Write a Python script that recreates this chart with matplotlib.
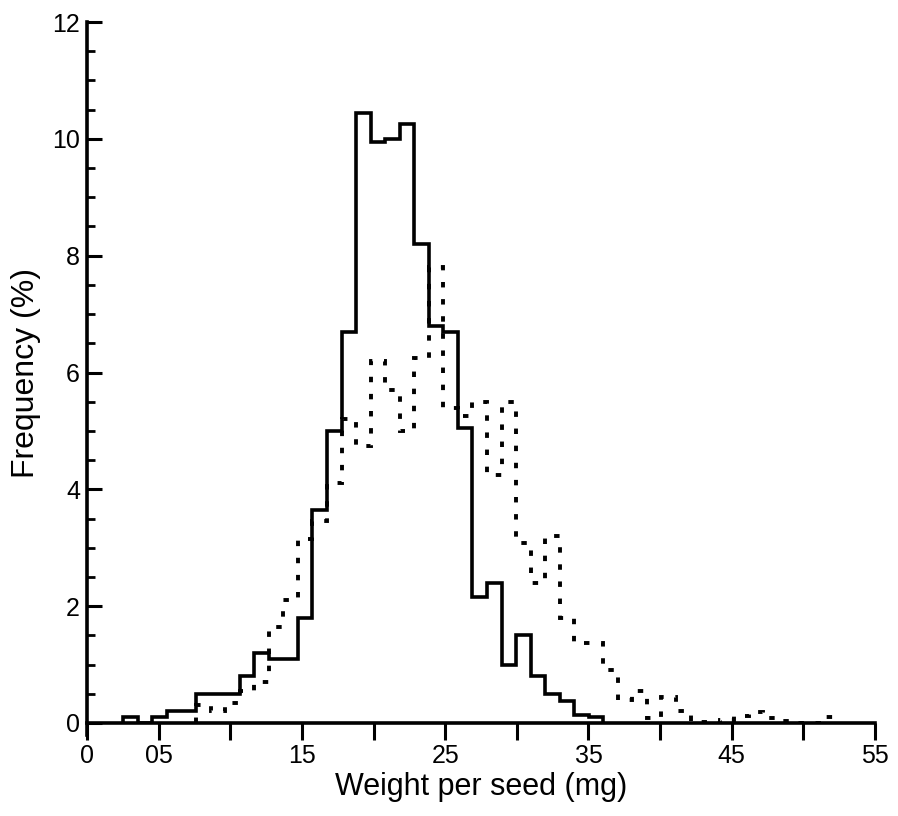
#!/usr/bin/env python3
# seed weight frequency histograms, solid vs dotted sample

import matplotlib
matplotlib.use("Agg")
import matplotlib.pyplot as plt
import numpy as np

# bins (about 0.1 wide)
bin_w = 0.1015

solid_x0 = 0.254
solid_pct = [0.1, 0, 0.1, 0.2, 0.2, 0.5, 0.5, 0.5, 0.8, 1.2, 1.1, 1.1,
             1.8, 3.65, 5.0, 6.7, 10.45, 9.95, 10.0, 10.25, 8.2, 6.8,
             6.7, 5.05, 2.15, 2.4, 1.0, 1.5, 0.8, 0.5, 0.38, 0.13, 0.1]

dotted_x0 = 0.7615
dotted_pct = [0.3, 0.2, 0.35, 0.55, 0.7, 1.65, 2.1, 3.15, 3.45, 4.1, 5.2,
              4.75, 6.2, 5.7, 5.0, 6.25, 7.8, 5.4, 5.25, 5.5, 4.25, 5.5,
              3.08, 2.4, 3.2, 1.8, 1.37, 1.37, 0.9, 0.4, 0.55, 0.08, 0.45,
              0.2, 0.02, 0, 0.05, 0.12, 0.18, 0.08, 0.04, 0, 0, 0.1]

xticks = [0, 0.5, 1.0, 1.5, 2.0, 2.5, 3.0, 3.5, 4.0, 4.5, 5.0, 5.5]
xtick_labels = ["0", "05", "", "15", "", "25", "", "35", "", "45", "", "55"]
yticks = [0, 2, 4, 6, 8, 10, 12]

plt.rcParams['font.family'] = ['Liberation Sans', 'DejaVu Sans']

fig = plt.figure(figsize=(8.98, 8.16), dpi=100)
ax = fig.add_axes([0.0969, 0.114, 0.8775, 0.859])

edges_s = solid_x0 + bin_w * np.arange(len(solid_pct) + 1)
edges_d = dotted_x0 + bin_w * np.arange(len(dotted_pct) + 1)

ax.stairs(solid_pct, edges_s, color='black', linewidth=2.6)
ax.stairs(dotted_pct, edges_d, color='black', linewidth=2.8,
          linestyle=(0, (1.4, 3.0)))

ax.set_xlim(0, 5.5)
ax.set_ylim(0, 12)

for s in ['top', 'right']:
    ax.spines[s].set_visible(False)
ax.spines['left'].set_linewidth(2.6)
ax.spines['bottom'].set_linewidth(2.6)
# the y axis line runs a little below zero in the original
ax.spines['left'].set_bounds(-0.2, 12)

ax.set_xticks(xticks)
ax.set_xticklabels(xtick_labels)
ax.set_yticks(yticks)
ax.set_yticks(np.arange(0, 12, 0.5), minor=True)

ax.tick_params(axis='x', direction='out', length=12, width=2.2,
               labelsize=18, pad=3)
ax.tick_params(axis='y', which='major', direction='in', length=11,
               width=2.2, labelsize=18, pad=5)
ax.tick_params(axis='y', which='minor', direction='in', length=6, width=2.0)

ax.set_xlabel("Weight per seed (mg)", fontsize=22, labelpad=3)
ax.set_ylabel("Frequency (%)", fontsize=23, labelpad=8)

fig.savefig("out.png", dpi=100)
